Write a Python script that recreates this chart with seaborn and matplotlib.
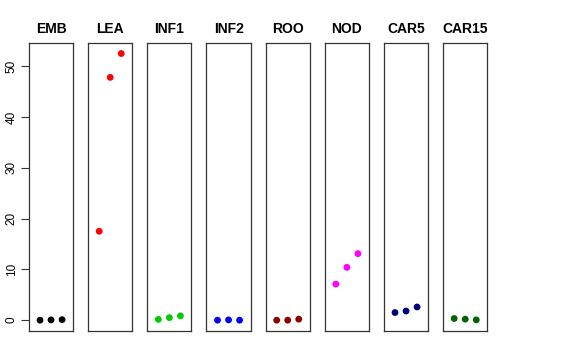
import numpy as np
import pandas as pd
import matplotlib
matplotlib.use("Agg")
import matplotlib.pyplot as plt
import seaborn as sns

# Panel names, one per tissue / condition
panels = ["EMB", "LEA", "INF1", "INF2", "ROO", "NOD", "CAR5", "CAR15"]
colors = ["black", "red", "#00CD00", "blue", "darkred", "magenta", "navy", "darkgreen"]

# Three replicate values per panel
emb = [0.0, 0.05, 0.1]
lea = [17.5, 47.8, 52.5]
inf1 = [0.15, 0.5, 0.85]
inf2 = [0.0, 0.05, 0.0]
roo = [0.0, 0.0, 0.2]
nod = [7.1, 10.4, 13.1]
car5 = [1.5, 1.8, 2.6]
car15 = [0.33, 0.2, 0.06]
replicate = [1, 2, 3]

values = [emb, lea, inf1, inf2, roo, nod, car5, car15]

sns.set_theme(style="white")
plt.rcParams["font.family"] = ["Liberation Sans", "DejaVu Sans"]
plt.rcParams["text.color"] = "black"
plt.rcParams["ytick.color"] = "black"

fig, axes = plt.subplots(1, 8, figsize=(5.76, 3.6), dpi=100, sharey=True)
fig.subplots_adjust(left=0.0503, right=0.846, top=0.881, bottom=0.081, wspace=0.34)

for ax, name, col, vals in zip(axes, panels, colors, values):
    df = pd.DataFrame({"rep": replicate, "val": vals})
    sns.scatterplot(data=df, x="rep", y="val", color=col, s=24, edgecolor="none", ax=ax)
    ax.set_xlim(0, 4)
    ax.set_title(name, fontsize=10, fontweight="bold", pad=7, color="black")
    ax.set_xlabel("")
    ax.set_ylabel("")
    ax.set_xticks([])
    for sp in ax.spines.values():
        sp.set_color("#333333")
        sp.set_linewidth(0.9)
    ax.tick_params(axis="y", left=False, labelleft=False)

ymax = max(max(v) for v in values)
pad = 0.04 * ymax
axes[0].set_ylim(-pad, ymax + pad)
axes[0].set_yticks([0, 10, 20, 30, 40, 50])
axes[0].tick_params(axis="y", left=True, labelleft=True, length=6, width=0.8,
                    color="#333333", labelcolor="black", labelsize=8.5, pad=2)
for lbl in axes[0].get_yticklabels():
    lbl.set_rotation(90)
    lbl.set_va("center")

plt.savefig("out.png", dpi=100)
plt.close()
